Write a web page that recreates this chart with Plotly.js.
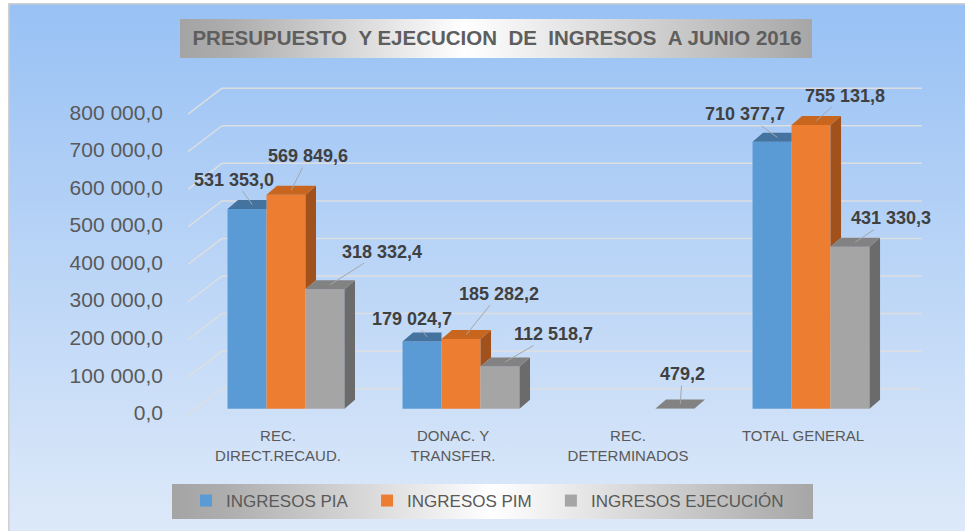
<!DOCTYPE html>
<html>
<head>
<meta charset="utf-8">
<script src="https://cdn.plot.ly/plotly-3.0.1.min.js"></script>
<style>
  html, body { margin: 0; padding: 0; background: #ffffff; }
  #chart { width: 965px; height: 531px; }
</style>
</head>
<body>
<div id="chart"></div>
<script>
// ---------------- DATA ----------------
const categories = ['REC.<br>DIRECT.RECAUD.', 'DONAC. Y<br>TRANSFER.', 'REC.<br>DETERMINADOS', 'TOTAL GENERAL'];
const seriesNames = ['INGRESOS PIA', 'INGRESOS PIM', 'INGRESOS EJECUCIÓN'];
const ingresosPIA = [531353.0, 179024.7, null, 710377.7];
const ingresosPIM = [569849.6, 185282.2, null, 755131.8];
const ingresosEjecucion = [318332.4, 112518.7, 479.2, 431330.3];
const yTickValues = [0, 100000, 200000, 300000, 400000, 500000, 600000, 700000, 800000];
const chartTitle = 'PRESUPUESTO\u00A0\u00A0Y EJECUCION\u00A0\u00A0DE\u00A0\u00A0INGRESOS\u00A0\u00A0A JUNIO 2016';

// ---------------- LAYOUT GEOMETRY / STYLE ----------------
const W_PX = 965, H_PX = 531;
const M = { l: 188, r: 43, t: 80, b: 111 };
const plotW = W_PX - M.l - M.r, plotH = H_PX - M.t - M.b;
const X_RANGE = [-0.56, 3.634];
const Y_RANGE = [-30000, 875000];
const ux = (X_RANGE[1] - X_RANGE[0]) / plotW;   // data units per px (x)
const uy = (Y_RANGE[1] - Y_RANGE[0]) / plotH;   // data units per px (y)
const BAR_W = 39 * ux;
const DEPTH_X = 10.5 * ux, DEPTH_Y = 9 * uy;
const faceColors = ['#5b9bd5', '#ed7d31', '#a5a5a5'];
const topColors = ['#44739f', '#c8661f', '#828282'];
const sideColors = ['#3b6790', '#a1511b', '#6b6b6b'];
const offsets = [-1.5, -0.5, 0.5];
const legendPad = ['\u00A0\u00A0\u00A0', '\u00A0\u00A0\u00A0', ''];
// label offsets in px (ax, ay) per series per category
const labelOffsets = [
  [[-18, -25], [-15, -18], null, [-32, -23]],
  [[17, -34], [33, -41], null, [29, -25]],
  [[52, -33], [48, -28], [2, -30], [36, -24]]
];
const FONT = 'Liberation Sans, Arial, sans-serif';

const series = [ingresosPIA, ingresosPIM, ingresosEjecucion];

function fmt(v) {
  const s = v.toFixed(1);
  const [ip, dp] = s.split('.');
  return ip.replace(/\B(?=(\d{3})+(?!\d))/g, ' ') + ',' + dp;
}
function px2paperX(px) { return (px - M.l) / plotW; }
function px2paperY(py) { return (H_PX - M.b - py) / plotH; }

const xPos = categories.map((c, i) => i);
const traces = [];

// front faces (bars)
series.forEach((vals, s) => {
  traces.push({
    type: 'bar', x: xPos, y: vals, name: seriesNames[s] + legendPad[s],
    width: BAR_W, offset: offsets[s] * BAR_W,
    marker: { color: faceColors[s], line: { width: 0 } },
    hoverinfo: 'skip'
  });
});

// 3D top/side faces computed from the values
series.forEach((vals, s) => {
  const next = s < series.length - 1 ? series[s + 1] : null;
  const tx = [], ty = [], sx = [], sy = [];
  vals.forEach((v, i) => {
    if (v === null) return;
    const L = i + offsets[s] * BAR_W, R = L + BAR_W;
    const n = next ? next[i] : null;
    if (n !== null && n >= v) {
      tx.push(L, L + DEPTH_X, R, R, L, null);
      ty.push(v, v + DEPTH_Y, v + DEPTH_Y, v, v, null);
    } else {
      tx.push(L, L + DEPTH_X, R + DEPTH_X, R, L, null);
      ty.push(v, v + DEPTH_Y, v + DEPTH_Y, v, v, null);
      const lo = (n === null) ? 0 : n;
      sx.push(R, R + DEPTH_X, R + DEPTH_X, R, R, null);
      sy.push(lo, lo + DEPTH_Y, v + DEPTH_Y, v, lo, null);
    }
  });
  traces.push({ type: 'scatter', mode: 'lines', x: sx, y: sy, fill: 'toself', fillcolor: sideColors[s],
    line: { width: 0, color: sideColors[s] }, showlegend: false, hoverinfo: 'skip' });
  traces.push({ type: 'scatter', mode: 'lines', x: tx, y: ty, fill: 'toself', fillcolor: topColors[s],
    line: { width: 0, color: topColors[s] }, showlegend: false, hoverinfo: 'skip' });
});

// data labels with leader lines
const annotations = [];
series.forEach((vals, s) => {
  vals.forEach((v, i) => {
    if (v === null || !labelOffsets[s][i]) return;
    const L = i + offsets[s] * BAR_W;
    annotations.push({
      x: L + BAR_W / 2 + DEPTH_X / 2, y: v + DEPTH_Y / 2, xref: 'x', yref: 'y',
      text: '<b>' + fmt(v) + '</b>', showarrow: true, arrowhead: 0, arrowwidth: 1,
      arrowcolor: '#a6a6a6', standoff: 0, startstandoff: 0,
      ax: labelOffsets[s][i][0], ay: labelOffsets[s][i][1],
      font: { family: FONT, size: 18, color: '#404040' }
    });
  });
});

// back-wall / side-wall gridlines from the tick values
const shapes = [];
const wallX0 = X_RANGE[0], wallX1 = X_RANGE[0] + 34 * ux, wallX2 = X_RANGE[1];
const frontDY = -6 * uy, backDY = 20 * uy;
yTickValues.forEach(v => {
  shapes.push({ type: 'line', xref: 'x', yref: 'y', layer: 'below',
    x0: wallX0, y0: v + frontDY, x1: wallX1, y1: v + backDY,
    line: { color: 'rgba(222,222,222,0.95)', width: 1.5 } });
  shapes.push({ type: 'line', xref: 'x', yref: 'y', layer: 'below',
    x0: wallX1, y0: v + backDY, x1: wallX2, y1: v + backDY,
    line: { color: 'rgba(222,222,222,0.95)', width: 1.5 } });
});

function svgURI(svg) { return 'data:image/svg+xml;charset=utf-8,' + encodeURIComponent(svg); }
function imageAt(src, x, y, w, h) {
  return { source: src, xref: 'paper', yref: 'paper', x: px2paperX(x), y: px2paperY(y),
    sizex: w / plotW, sizey: h / plotH, xanchor: 'left', yanchor: 'top', sizing: 'stretch', layer: 'below' };
}
const bgW = 957, bgH = 528;
const bgSvg = `<svg xmlns="http://www.w3.org/2000/svg" width="${bgW}" height="${bgH}" viewBox="0 0 ${bgW} ${bgH}" preserveAspectRatio="none"><defs><linearGradient id="g" x1="0" y1="0" x2="0" y2="1"><stop offset="0" stop-color="#98c1f4"/><stop offset="1" stop-color="#dde9f9"/></linearGradient></defs><rect x="0" y="0" width="${bgW}" height="${bgH}" fill="url(#g)"/><line x1="0.75" y1="0" x2="0.75" y2="${bgH}" stroke="#d0d0d0" stroke-width="1.5"/><line x1="0" y1="0.75" x2="${bgW}" y2="0.75" stroke="#d0d0d0" stroke-width="1.5"/></svg>`;
function boxSvg(w, h, mid) {
  return `<svg xmlns="http://www.w3.org/2000/svg" width="${w}" height="${h}" viewBox="0 0 ${w} ${h}" preserveAspectRatio="none"><defs><linearGradient id="g" x1="0" y1="0" x2="1" y2="0"><stop offset="0" stop-color="#a4a4a4"/><stop offset="0.08" stop-color="#adadad"/><stop offset="${mid}" stop-color="#ffffff"/><stop offset="0.92" stop-color="#b4b4b4"/><stop offset="1" stop-color="#a6a6a6"/></linearGradient></defs><rect x="0" y="0" width="${w}" height="${h}" fill="url(#g)"/></svg>`;
}
const images = [
  imageAt(svgURI(bgSvg), 8, 3, bgW, bgH),
  imageAt(svgURI(boxSvg(632, 39, 0.45)), 180, 19, 632, 39),
  imageAt(svgURI(boxSvg(641, 35, 0.5)), 172, 484, 641, 35)
];

const layout = {
  width: W_PX, height: H_PX,
  margin: M,
  paper_bgcolor: '#ffffff', plot_bgcolor: 'rgba(0,0,0,0)',
  separators: ', ',
  hovermode: false,
  barmode: 'overlay',
  font: { family: FONT, color: '#595959' },
  title: {
    text: '<b>' + chartTitle + '</b>', x: 497 / W_PX, xanchor: 'center', xref: 'container',
    y: 1 - 38 / H_PX, yanchor: 'middle', yref: 'container',
    font: { family: FONT, size: 20.5, color: '#5e5e5e' }
  },
  xaxis: {
    range: X_RANGE, tickvals: xPos, ticktext: categories, showgrid: false, zeroline: false,
    showline: false, ticks: '', ticklabelstandoff: 5, ticklabelshift: -8,
    tickfont: { family: FONT, size: 15, color: '#595959' }, fixedrange: true
  },
  yaxis: {
    range: Y_RANGE, tickvals: yTickValues, tickformat: ',.1f', showgrid: false, zeroline: false,
    showline: false, ticks: '', ticklabelstandoff: 24, ticklabelshift: 4,
    tickfont: { family: FONT, size: 21, color: '#595959' }, fixedrange: true
  },
  legend: {
    orientation: 'h', x: px2paperX(186), xanchor: 'left', y: px2paperY(501), yanchor: 'middle',
    bgcolor: 'rgba(0,0,0,0)', borderwidth: 0,
    font: { family: FONT, size: 17, color: '#595959' }, traceorder: 'normal'
  },
  shapes: shapes,
  images: images,
  annotations: annotations,
  showlegend: true
};

Plotly.newPlot('chart', traces, layout, { displayModeBar: false, staticPlot: true });
</script>
</body>
</html>
